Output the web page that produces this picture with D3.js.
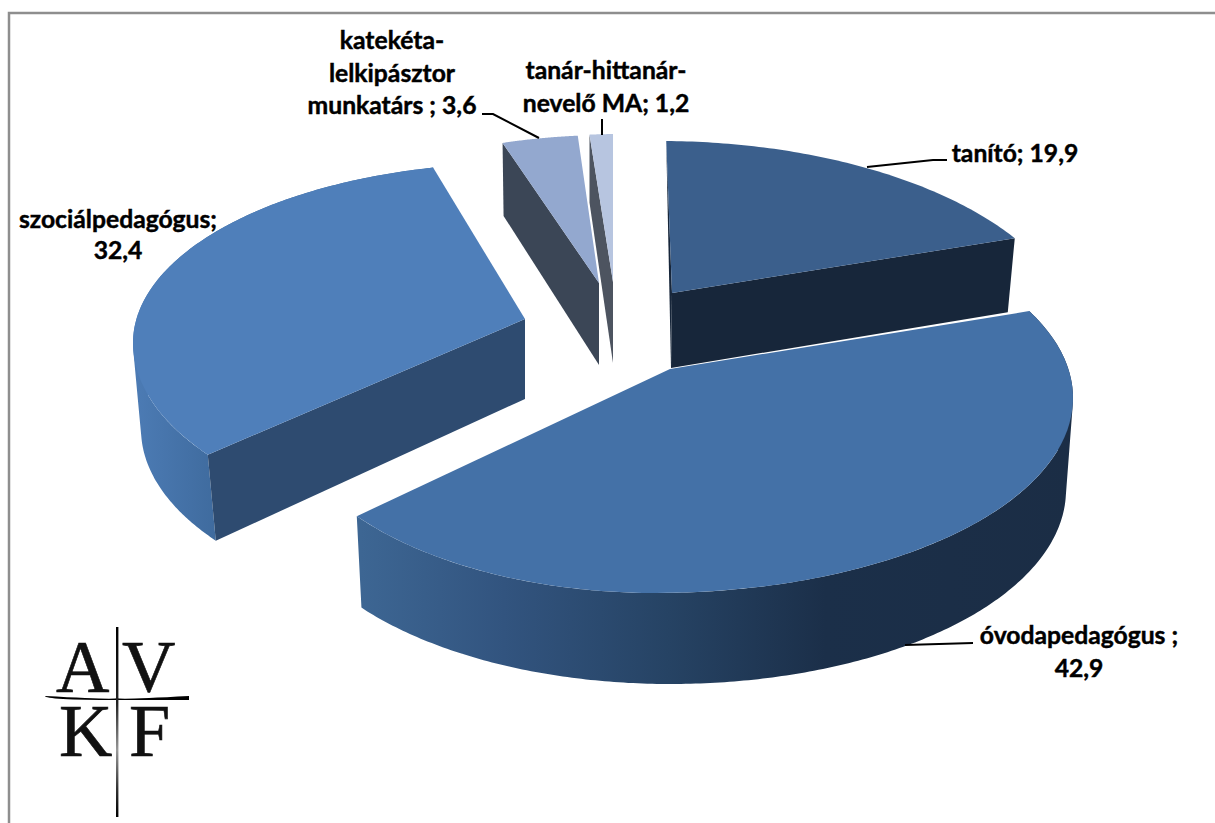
<!DOCTYPE html>
<html><head><meta charset="utf-8">
<script src="https://cdnjs.cloudflare.com/ajax/libs/d3/7.8.5/d3.min.js"></script>
<style>html,body{margin:0;padding:0;background:#fff}svg{display:block}
.lab{font-family:Lato,"Open Sans",sans-serif;font-weight:700;font-size:24.7px;fill:#000;stroke:#000;stroke-width:.45;text-anchor:middle}
.logo{font-family:"Liberation Serif",serif;font-size:74px;fill:#111;stroke:#111;stroke-width:.6}</style>
</head><body><svg id="c" width="1215" height="823"></svg>
<script>
// --- data ---
const categories = ["tanító","óvodapedagógus","szociálpedagógus","katekéta-lelkipásztor munkatárs","tanár-hittanár-nevelő MA"];
const values = [19.9,42.9,32.4,3.6,1.2];
const valueLabels = ["19,9","42,9","32,4","3,6","1,2"];
// --- layout of every exploded slice (perspective ellipses) ---
const topEllipses = [
 {cx:660,cy:350,rxL:420,rxR:420,ryT:209,ryB:209},
 {cx:655,cy:398,rxL:375,rxR:418,ryT:195,ryB:195},
 {cx:520,cy:343,rxL:387,rxR:387,ryT:180,ryB:189},
 {cx:610,cy:350,rxL:400,rxR:400,ryT:215,ryB:215},
 {cx:620,cy:350,rxL:400,rxR:400,ryT:216,ryB:216}];
const lowEllipses = [
 {cx:653,cy:424,rxL:420,rxR:420,ryT:209,ryB:209},
 {cx:670,cy:490,rxL:388,rxR:396,ryT:194,ryB:194},
 {cx:528,cy:429,rxL:387,rxR:387,ryT:180,ryB:189},
 {cx:611,cy:423,rxL:400,rxR:400,ryT:215,ryB:215},
 {cx:620,cy:418,rxL:400,rxR:400,ryT:216,ryB:216}];
const apexTop = [[672,293],[670,369],[525,319],[599,283],[613,282]];
const apexLow = [[671,368],[670,369],[525,399],[599,365],[613,363]];
const angleWarp = [[0.85,-14],[-8.1,6.6],[7.7,4.3],[1.7,-0.3],[-0.05,-1]];
const cutFace = ["end",null,"start","start","start"];
const topColors = ["#3b5f8c","#4471a7","#4f7fba","#93a8cf","#b7c5e0"];
const faceColors = ["#17263a","#1b2d45","#2e4b70","#3b4656","#4d5460"];
const drawOrder = [2,3,4,0,1];
const labelLines = [
 [["tanító; 19,9",1015,162]],
 [["óvodapedagógus ;",1079,644],["42,9",1079,677]],
 [["szociálpedagógus;",118,228],["32,4",118,259]],
 [["katekéta-",392,49],["lelkipásztor",392,82],["munkatárs ; 3,6",392,114]],
 [["tanár-hittanár-",606,79],["nevelő MA; 1,2",606,112]]];
const leaders = [
 [[867,167],[933,160],[947,160]],
 [[905,645],[973,643]],
 [],
 [[482,114],[493,114],[539,138]],
 [[602,119],[602,135]]];

const svg = d3.select("#c");
const defs = svg.append("defs");
function grad(id,x1,x2,stops){
  const g=defs.append("linearGradient").attr("id",id).attr("gradientUnits","userSpaceOnUse")
    .attr("x1",x1).attr("x2",x2).attr("y1",0).attr("y2",0);
  stops.forEach(s=>g.append("stop").attr("offset",s[0]).attr("stop-color",s[1]));
}
grad("wall1",361,1075,[[0,"#3d6693"],[0.2,"#32547f"],[0.43,"#264364"],[0.65,"#1b2f49"],[1,"#1b2d45"]]);
grad("wall2",135,216,[[0,"#4c7bb4"],[1,"#3f6b9e"]]);
const vg=defs.append("linearGradient").attr("id","crossV").attr("x1",0).attr("x2",0).attr("y1",0).attr("y2",1);
[[0,"#000"],[0.4,"#222"],[0.65,"#999"],[0.85,"#333"],[1,"#000"]].forEach(s=>vg.append("stop").attr("offset",s[0]).attr("stop-color",s[1]));

const pie = d3.pie().sort(null).startAngle(0).endAngle(2*Math.PI);
const arcs = pie(values);
const deg = r=>r*180/Math.PI, rad=d3.scaleLinear().domain([0,180]).range([0,Math.PI]);
const line = d3.line();
function pt(e,t){
  const a=rad(t), s=Math.sin(a), c=Math.cos(a);
  return [e.cx+(s<0?e.rxL:e.rxR)*s, e.cy-(c>0?e.ryT:e.ryB)*c];
}
function range(i){
  return [deg(arcs[i].startAngle)+angleWarp[i][0], deg(arcs[i].endAngle)+angleWarp[i][1]];
}
function samples(e,t0,t1,n=80){
  const sc=d3.scaleLinear().domain([0,n]).range([t0,t1]);
  return d3.range(n+1).map(k=>pt(e,sc(k)));
}
// curved wall: union of quads between upper and lower rim, so the silhouette runs straight between the rims
function wallPath(top,low,t0,t1){
  const n=240, a=samples(top,t0,t1,n), b=samples(low,t0,t1,n);
  return d3.range(n).map(k=>{
    const q=[a[k],a[k+1],b[k+1],b[k]];
    if(d3.polygonArea(q)<0) q.reverse();
    return line(q)+"Z";
  }).join("");
}
// frame
svg.append("rect").attr("x",9).attr("y",13).attr("width",1300).attr("height",900)
  .attr("fill","none").attr("stroke","#8e8e8e").attr("stroke-width",2.5);

drawOrder.forEach(i=>{
  const [t0,t1]=range(i), top=topEllipses[i], low=lowEllipses[i];
  const g=svg.append("g").attr("data-cat",categories[i]);
  if(i===1||i===2){
    g.append("path").attr("d",wallPath(top,low,t0,t1)).attr("fill",i===1?"url(#wall1)":"url(#wall2)");
  }
  if(cutFace[i]){
    const t=cutFace[i]==="start"?t0:t1;
    g.append("path").attr("d",line([apexTop[i],pt(top,t),pt(low,t),apexLow[i]])+"Z").attr("fill",faceColors[i]);
  }
  if(i===0){ // thin sliver of the far cut face
    g.append("path").attr("d",line([pt(top,t0),apexTop[i],apexLow[i]])+"Z").attr("fill",faceColors[i]);
  }
  g.append("path").attr("d",line([apexTop[i]].concat(samples(top,t0,t1)))+"Z").attr("fill",topColors[i]);
});

// leader lines
svg.selectAll("path.leader").data(leaders.filter(l=>l.length)).join("path").attr("class","leader")
  .attr("d",d=>line(d)).attr("fill","none").attr("stroke","#000").attr("stroke-width",2);
// labels
labelLines.forEach(ls=>ls.forEach(l=>{
  svg.append("text").attr("class","lab").attr("x",l[1]).attr("y",l[2]).text(l[0]);
}));
// logo
const logoLetters=[["A",56,692],["V",122,692],["K",59,756],["F",129,756]];
svg.selectAll("text.logo").data(logoLetters).join("text").attr("class","logo")
  .attr("x",d=>d[1]).attr("y",d=>d[2]).text(d=>d[0]);
svg.append("path").attr("d","M45,696 Q117,700 117,698 Q117,700 189,696 L189,700 Q117,700 117,700 Q45,700 45,696 Z").attr("fill","#000");
svg.append("rect").attr("x",116).attr("y",627).attr("width",2.4).attr("height",190).attr("fill","url(#crossV)");
</script></body></html>
